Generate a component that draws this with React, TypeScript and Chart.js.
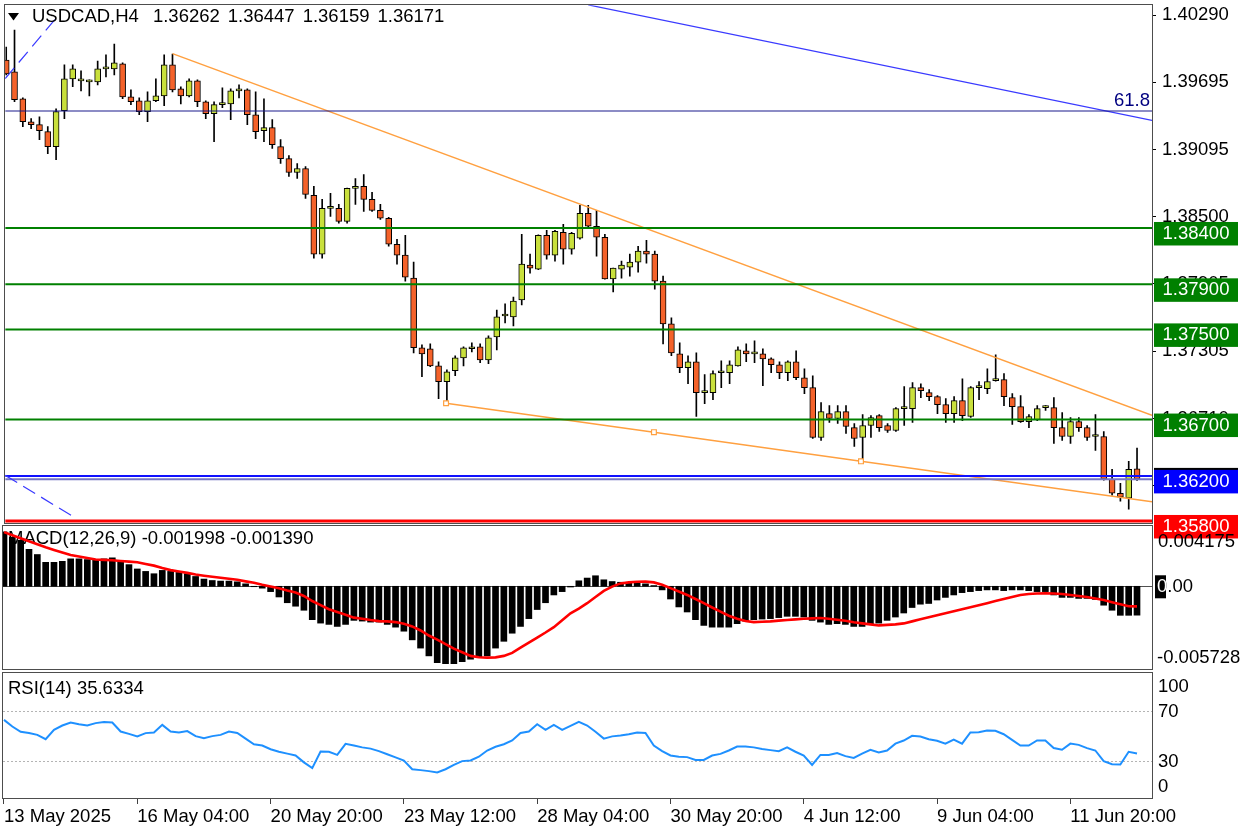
import React, { useEffect, useRef } from 'react';
import { Chart, registerables } from 'chart.js';

Chart.register(...registerables);

// ---------- texts ----------
const symbolLabel = 'USDCAD,H4';
const headerValues = ['1.36262', '1.36447', '1.36159', '1.36171'];
const macdTitle = 'MACD(12,26,9) -0.001998 -0.001390';
const rsiTitle = 'RSI(14) 35.6334';

// ---------- candles (H4, index 0 = 13 May 12:00) ----------
const opens = [
  1.39891, 1.39785, 1.39547, 1.39343, 1.39317, 1.39255, 1.39122, 1.39440, 1.39723, 1.39706,
  1.39697, 1.39697, 1.39812, 1.39812, 1.39856, 1.39564, 1.39529, 1.39432, 1.39529, 1.39573,
  1.39847, 1.39635, 1.39573, 1.39706, 1.39520, 1.39414, 1.39494, 1.39502, 1.39617, 1.39626,
  1.39405, 1.39264, 1.39290, 1.39122, 1.39016, 1.38892, 1.38928, 1.38689, 1.38168, 1.38574,
  1.38574, 1.38459, 1.38751, 1.38769, 1.38654, 1.38556, 1.38486, 1.38256, 1.38159, 1.37955,
  1.37337, 1.37328, 1.37177, 1.37036, 1.37133, 1.37248, 1.37328, 1.37345, 1.37230, 1.37434,
  1.37619, 1.37611, 1.37761, 1.38070, 1.38035, 1.38335, 1.38159, 1.38362, 1.38212, 1.38309,
  1.38530, 1.38415, 1.38318, 1.37947, 1.38035, 1.38053, 1.38097, 1.38194, 1.38168, 1.37929,
  1.37549, 1.37283, 1.37160, 1.37213, 1.36939, 1.36939, 1.37115, 1.37115, 1.37177, 1.37310,
  1.37283, 1.37283, 1.37239, 1.37186, 1.37115, 1.37213, 1.37071, 1.36983, 1.36541, 1.36753,
  1.36709, 1.36771, 1.36629, 1.36541, 1.36647, 1.36735, 1.36647, 1.36603, 1.36797, 1.36797,
  1.36983, 1.36939, 1.36903, 1.36833, 1.36753, 1.36868, 1.36727, 1.36983, 1.36974, 1.37045,
  1.37054, 1.36895, 1.36815, 1.36682, 1.36700, 1.36806, 1.36806, 1.36629, 1.36550, 1.36682,
  1.36629, 1.36550, 1.36550, 1.36170, 1.36046, 1.36002, 1.36262,
];
const highs = [
  1.40006, 1.40157, 1.39555, 1.39370, 1.39387, 1.39299, 1.39458, 1.39847, 1.39847, 1.39794,
  1.39714, 1.39882, 1.39936, 1.40033, 1.39865, 1.39626, 1.39555, 1.39608, 1.39723, 1.39936,
  1.39944, 1.39653, 1.39723, 1.39714, 1.39529, 1.39520, 1.39644, 1.39635, 1.39670, 1.39635,
  1.39608, 1.39547, 1.39361, 1.39184, 1.39043, 1.38972, 1.38945, 1.38769, 1.38654, 1.38707,
  1.38610, 1.38755, 1.38839, 1.38875, 1.38716, 1.38610, 1.38495, 1.38300, 1.38335, 1.38097,
  1.37363, 1.37372, 1.37213, 1.37142, 1.37266, 1.37345, 1.37381, 1.37372, 1.37443, 1.37672,
  1.37726, 1.37787, 1.38344, 1.38168, 1.38340, 1.38380, 1.38380, 1.38433, 1.38362, 1.38601,
  1.38601, 1.38556, 1.38344, 1.38044, 1.38106, 1.38168, 1.38238, 1.38291, 1.38194, 1.37973,
  1.37602, 1.37381, 1.37266, 1.37292, 1.37098, 1.37133, 1.37222, 1.37222, 1.37345, 1.37372,
  1.37398, 1.37328, 1.37248, 1.37213, 1.37222, 1.37310, 1.37151, 1.37089, 1.36850, 1.36824,
  1.36824, 1.36824, 1.36665, 1.36744, 1.36735, 1.36744, 1.36665, 1.36806, 1.36992, 1.37027,
  1.37018, 1.36965, 1.36912, 1.36886, 1.36903, 1.37062, 1.36992, 1.37036, 1.37151, 1.37275,
  1.37107, 1.36930, 1.36912, 1.36744, 1.36824, 1.36824, 1.36895, 1.36762, 1.36718, 1.36718,
  1.36647, 1.36744, 1.36594, 1.36258, 1.36134, 1.36329, 1.36447,
];
const lows = [
  1.39759, 1.39520, 1.39299, 1.39281, 1.39184, 1.39060, 1.39007, 1.39370, 1.39653, 1.39617,
  1.39573, 1.39670, 1.39741, 1.39759, 1.39547, 1.39494, 1.39405, 1.39343, 1.39520, 1.39485,
  1.39608, 1.39502, 1.39564, 1.39476, 1.39370, 1.39166, 1.39467, 1.39361, 1.39555, 1.39317,
  1.39193, 1.39166, 1.39105, 1.38972, 1.38857, 1.38839, 1.38663, 1.38132, 1.38132, 1.38503,
  1.38442, 1.38442, 1.38610, 1.38548, 1.38548, 1.38477, 1.38238, 1.38079, 1.37929, 1.37292,
  1.37080, 1.37169, 1.36886, 1.36850, 1.37089, 1.37177, 1.37301, 1.37204, 1.37195, 1.37319,
  1.37558, 1.37531, 1.37717, 1.37999, 1.38030, 1.38123, 1.38106, 1.38079, 1.38168, 1.38300,
  1.38406, 1.38150, 1.37945, 1.37832, 1.37955, 1.37973, 1.38008, 1.38088, 1.37858, 1.37372,
  1.37266, 1.37115, 1.37018, 1.36727, 1.36841, 1.36877, 1.36983, 1.37018, 1.37174, 1.37213,
  1.37204, 1.37001, 1.37115, 1.37062, 1.37045, 1.37054, 1.36930, 1.36532, 1.36514, 1.36674,
  1.36665, 1.36576, 1.36461, 1.36329, 1.36541, 1.36594, 1.36585, 1.36594, 1.36647, 1.36674,
  1.36895, 1.36868, 1.36753, 1.36674, 1.36674, 1.36691, 1.36718, 1.36877, 1.36930, 1.37040,
  1.36824, 1.36656, 1.36674, 1.36629, 1.36691, 1.36780, 1.36488, 1.36514, 1.36488, 1.36594,
  1.36514, 1.36426, 1.36161, 1.36028, 1.35975, 1.35904, 1.36159,
];
const closes = [
  1.39768, 1.39538, 1.39343, 1.39317, 1.39264, 1.39122, 1.39432, 1.39723, 1.39812, 1.39708,
  1.39699, 1.39812, 1.39814, 1.39865, 1.39564, 1.39520, 1.39432, 1.39529, 1.39573, 1.39847,
  1.39626, 1.39573, 1.39706, 1.39520, 1.39414, 1.39494, 1.39496, 1.39617, 1.39635, 1.39405,
  1.39255, 1.39290, 1.39140, 1.39016, 1.38892, 1.38928, 1.38698, 1.38168, 1.38574, 1.38576,
  1.38459, 1.38751, 1.38769, 1.38654, 1.38556, 1.38486, 1.38256, 1.38159, 1.37964, 1.37337,
  1.37283, 1.37177, 1.37036, 1.37124, 1.37248, 1.37337, 1.37345, 1.37230, 1.37425, 1.37611,
  1.37621, 1.37752, 1.38079, 1.38044, 1.38335, 1.38159, 1.38371, 1.38212, 1.38353, 1.38530,
  1.38415, 1.38318, 1.37947, 1.38044, 1.38070, 1.38097, 1.38194, 1.38168, 1.37929, 1.37549,
  1.37292, 1.37160, 1.37213, 1.36939, 1.36941, 1.37107, 1.37117, 1.37186, 1.37319, 1.37283,
  1.37285, 1.37239, 1.37186, 1.37115, 1.37213, 1.37071, 1.36983, 1.36541, 1.36771, 1.36709,
  1.36771, 1.36638, 1.36532, 1.36647, 1.36718, 1.36629, 1.36603, 1.36797, 1.36799, 1.36983,
  1.36956, 1.36903, 1.36833, 1.36753, 1.36868, 1.36735, 1.36983, 1.36985, 1.37036, 1.37054,
  1.36903, 1.36815, 1.36682, 1.36727, 1.36797, 1.36808, 1.36629, 1.36550, 1.36682, 1.36629,
  1.36541, 1.36552, 1.36170, 1.36046, 1.36011, 1.36258, 1.36171,
];

// ---------- MACD ----------
const macdHist = [
  0.00377, 0.00340, 0.00319, 0.00256, 0.00220, 0.00166, 0.00166, 0.00173, 0.00190, 0.00190,
  0.00185, 0.00180, 0.00190, 0.00197, 0.00173, 0.00150, 0.00120, 0.00103, 0.00087, 0.00110,
  0.00103, 0.00096, 0.00087, 0.00068, 0.00050, 0.00040, 0.00036, 0.00036, 0.00031, 0.00017,
  -0.00003, -0.00013, -0.00037, -0.00074, -0.00114, -0.00138, -0.00166, -0.00231, -0.00255, -0.00264,
  -0.00278, -0.00264, -0.00236, -0.00241, -0.00248, -0.00248, -0.00264, -0.00283, -0.00311, -0.00371,
  -0.00428, -0.00482, -0.00529, -0.00536, -0.00536, -0.00522, -0.00505, -0.00494, -0.00482, -0.00428,
  -0.00381, -0.00325, -0.00278, -0.00224, -0.00161, -0.00114, -0.00060, -0.00037, -0.00005, 0.00038,
  0.00057, 0.00073, 0.00045, 0.00033, 0.00028, 0.00026, 0.00022, 0.00017, 0.00005, -0.00025,
  -0.00088, -0.00143, -0.00178, -0.00231, -0.00271, -0.00283, -0.00283, -0.00283, -0.00259, -0.00241,
  -0.00231, -0.00227, -0.00224, -0.00217, -0.00208, -0.00208, -0.00213, -0.00236, -0.00248, -0.00264,
  -0.00259, -0.00264, -0.00278, -0.00278, -0.00264, -0.00255, -0.00236, -0.00213, -0.00185, -0.00147,
  -0.00124, -0.00119, -0.00095, -0.00077, -0.00060, -0.00044, -0.00037, -0.00030, -0.00025, -0.00025,
  -0.00030, -0.00025, -0.00025, -0.00030, -0.00037, -0.00037, -0.00060, -0.00077, -0.00077, -0.00084,
  -0.00084, -0.00091, -0.00131, -0.00166, -0.00201, -0.00201, -0.00200,
];
const macdSignal = [
  0.00375, 0.00354, 0.00333, 0.00312, 0.00291, 0.00270, 0.00252, 0.00234, 0.00217, 0.00206,
  0.00196, 0.00185, 0.00183, 0.00180, 0.00175, 0.00171, 0.00166, 0.00154, 0.00143, 0.00126,
  0.00112, 0.00103, 0.00093, 0.00081, 0.00073, 0.00066, 0.00059, 0.00052, 0.00045, 0.00034,
  0.00024, 0.00010, -0.00001, -0.00013, -0.00029, -0.00043, -0.00067, -0.00102, -0.00131, -0.00159,
  -0.00178, -0.00197, -0.00217, -0.00225, -0.00234, -0.00241, -0.00243, -0.00248, -0.00260, -0.00278,
  -0.00306, -0.00341, -0.00369, -0.00401, -0.00432, -0.00457, -0.00482, -0.00491, -0.00494, -0.00492,
  -0.00482, -0.00461, -0.00425, -0.00390, -0.00355, -0.00320, -0.00283, -0.00236, -0.00187, -0.00155,
  -0.00117, -0.00074, -0.00032, -0.00002, 0.00020, 0.00027, 0.00031, 0.00032, 0.00027, 0.00010,
  -0.00013, -0.00036, -0.00060, -0.00088, -0.00117, -0.00147, -0.00176, -0.00204, -0.00225, -0.00241,
  -0.00248, -0.00246, -0.00243, -0.00238, -0.00234, -0.00229, -0.00225, -0.00222, -0.00220, -0.00225,
  -0.00232, -0.00239, -0.00249, -0.00257, -0.00264, -0.00271, -0.00267, -0.00264, -0.00257, -0.00243,
  -0.00229, -0.00215, -0.00201, -0.00187, -0.00173, -0.00159, -0.00145, -0.00131, -0.00117, -0.00102,
  -0.00088, -0.00074, -0.00060, -0.00053, -0.00050, -0.00048, -0.00050, -0.00053, -0.00060, -0.00067,
  -0.00074, -0.00084, -0.00095, -0.00110, -0.00124, -0.00138, -0.00139,
];

// ---------- RSI ----------
const rsiValues = [
  62.5, 57.2, 53, 52, 50.5, 47, 54.5, 58, 60.4, 59,
  58, 59.9, 60.7, 60.4, 53.2, 51.3, 49.2, 51.9, 52.4, 58.5,
  53.2, 52.4, 53.5, 49.5, 47.9, 49.5, 50.5, 53.2, 52, 47.5,
  43, 42, 39, 37, 35.5, 34, 28.5, 23.9, 37.2, 37,
  34.5, 43.3, 42, 40.5, 39.5, 37.5, 35, 32.5, 30, 23,
  22.3, 21.5, 20.5, 23, 26.5, 29.5, 30, 33, 38, 41,
  43, 46, 52, 53.2, 59, 54.5, 58.5, 54.5, 57.7, 61,
  58, 53, 47.5, 49.3, 50, 51, 52.4, 52, 42, 37.5,
  34, 33, 32.7, 30.5, 30.5, 34, 35.3, 38, 41.2, 41.2,
  40.5, 39.2, 38.3, 37.5, 40.5, 37, 34, 26.5, 34.5, 34.5,
  35.9, 33.5, 32, 35.5, 38.5, 36.4, 38, 43.5, 46, 49.7,
  49.2, 47, 45.8, 43.5, 46.8, 43.5, 52.4, 52.6, 54, 53.8,
  51, 46.5, 42, 42, 46, 46, 40, 38.6, 43.5, 42.5,
  39.9, 38, 29.5, 27, 26.8, 37, 35.63,
];

// ---------- axes ----------
const timeTickIndex = [0, 16, 32, 48, 64, 80, 96, 112, 128];
const timeTickLabels = ['13 May 2025', '16 May 04:00', '20 May 20:00', '23 May 12:00', '28 May 04:00', '30 May 20:00', '4 Jun 12:00', '9 Jun 04:00', '11 Jun 20:00'];
const priceTicks = [1.4029, 1.39695, 1.39095, 1.385, 1.37905, 1.37305, 1.3671, 1.36115];
const priceRange = [1.35782, 1.40377];
const barRange = [-0.12, 137.8];
const macdRange = [-0.005728, 0.004175];
const rsiRange = [0, 100];
const rsiLevels = [30, 70];

// ---------- drawn objects ----------
const greenLevels = [1.384, 1.379, 1.375, 1.367];
const blueLevel = 1.362;
const redLevel = 1.358;
const bidPrice = 1.36171;
const fibLevel = 1.39438;
const fibLabel = '61.8';
const upperTrendX = [20, 137.8];
const upperTrendY = [1.39947, 1.36738];
const lowerTrendX = [52.9, 77.9, 102.8, 137.8];
const lowerTrendY = [1.36845, 1.36588, 1.36329, 1.3597];
const blueTrendX = [70, 137.8];
const blueTrendY = [1.4038, 1.39354];
const dashTopX = [-0.12, 6.1];
const dashTopY = [1.39726, 1.40271];
const dashLowX = [-0.12, 8.16];
const dashLowY = [1.36205, 1.35834];

// ---------- style ----------
const FONT_FAMILY = '"Liberation Sans", Arial, sans-serif';
const FS = 18.5;
const FONT = `${FS}px ${FONT_FAMILY}`;
const BULL = '#c9e03c';
const BEAR = '#f4622a';
const GREEN = '#008000';
const ORANGE = '#ffa040';
const AXIS_W = 96;
const W = 1248;
const H = 832;

const pts = (xs: number[], ys: number[]) => xs.map((x, i) => ({ x, y: ys[i] }));
const hline = (v: number) => pts(barRange, [v, v]);
const idx = closes.map((_, i) => i);

function drawFrame(ctx: CanvasRenderingContext2D, a: any) {
  ctx.save();
  ctx.strokeStyle = '#4d4d4d';
  ctx.lineWidth = 1;
  const l = Math.round(a.left), t = Math.round(a.top), r = Math.round(a.right), b = Math.round(a.bottom);
  ctx.strokeRect(l - 0.5, t - 0.5, r - l + 1, b - t + 1);
  ctx.restore();
}

function lineDs(data: any[], color: string, width: number, extra: any = {}) {
  return { type: 'line', data, borderColor: color, borderWidth: width, pointRadius: 0, fill: false, tension: 0, order: 0, ...extra };
}

const yFit = (s: any) => { s.width = AXIS_W; s.paddingTop = 0; s.paddingBottom = 0; };

const mainDecor = {
  id: 'mainDecor',
  afterDatasetsDraw(chart: any) {
    const { ctx, chartArea: a, scales } = chart;
    ctx.save();
    ctx.font = FONT;
    ctx.fillStyle = '#000';
    ctx.textBaseline = 'middle';
    ctx.textAlign = 'left';
    ctx.beginPath();
    ctx.moveTo(8, 13); ctx.lineTo(19, 13); ctx.lineTo(13.5, 20.5); ctx.closePath(); ctx.fill();
    let x = 32;
    ctx.fillText(symbolLabel, x, 17);
    x += ctx.measureText(symbolLabel).width + 14;
    headerValues.forEach((v) => { ctx.fillText(v, x, 17); x += ctx.measureText(v).width + 8; });
    const fy = scales.y.getPixelForValue(fibLevel);
    ctx.fillStyle = '#000080';
    ctx.textAlign = 'right';
    ctx.fillText(fibLabel, a.right - 2, fy - 10);
    ctx.restore();
  },
  afterDraw(chart: any) {
    const { ctx, chartArea: a, scales } = chart;
    drawFrame(ctx, a);
    const boxX = a.right + 2;
    const boxW = 84;
    const box = (v: number, bg: string, dy = 0) => {
      const py = scales.y.getPixelForValue(v);
      ctx.fillStyle = bg;
      ctx.fillRect(boxX, py - 6 + dy, boxW, 23.5);
      return py;
    };
    ctx.save();
    ctx.font = FONT;
    ctx.textBaseline = 'middle';
    ctx.textAlign = 'center';
    const labels: [number, string][] = [
      ...greenLevels.map((v) => [v, GREEN] as [number, string]),
      [blueLevel, '#0000ff'],
      [redLevel, '#ff0000'],
    ];
    labels.forEach(([v, c]) => {
      if (v === blueLevel) box(v, '#000', -2);
      const py = box(v, c);
      ctx.fillStyle = '#fff';
      ctx.fillText(v.toFixed(5), boxX + boxW / 2, py + 6);
    });
    ctx.restore();
  },
};

const macdDecor = {
  id: 'macdDecor',
  beforeDatasetsDraw(chart: any) {
    const { ctx, chartArea: a, scales } = chart;
    const zy = Math.round(scales.y.getPixelForValue(0)) + 0.5;
    ctx.save();
    ctx.strokeStyle = '#505050';
    ctx.lineWidth = 1;
    ctx.beginPath(); ctx.moveTo(a.left, zy); ctx.lineTo(a.right, zy); ctx.stroke();
    ctx.font = FONT;
    ctx.fillStyle = '#000';
    ctx.textBaseline = 'middle';
    ctx.textAlign = 'left';
    ctx.fillText(macdTitle, 8, a.top + 13);
    ctx.restore();
  },
  afterDraw(chart: any) {
    const { ctx, chartArea: a, scales } = chart;
    drawFrame(ctx, a);
    const zy = scales.y.getPixelForValue(0);
    const lx = a.right + 5;
    ctx.save();
    ctx.font = FONT;
    ctx.textBaseline = 'middle';
    ctx.textAlign = 'left';
    ctx.fillStyle = '#000';
    ctx.fillText(macdRange[1].toFixed(6), lx + 1, a.top + 16);
    ctx.fillText(macdRange[0].toFixed(6), lx, a.bottom - 11);
    ctx.fillText((0).toFixed(2), lx, zy + 1);
    ctx.fillRect(lx - 2, zy - 11, 11, 23);
    ctx.fillStyle = '#ffffff';
    ctx.fillText('0', lx, zy + 1);
    ctx.restore();
  },
};

const rsiDecor = {
  id: 'rsiDecor',
  beforeDatasetsDraw(chart: any) {
    const { ctx, chartArea: a, scales } = chart;
    ctx.save();
    ctx.strokeStyle = '#b4b4b4';
    ctx.lineWidth = 1;
    ctx.setLineDash([2, 2]);
    rsiLevels.forEach((lv) => {
      const py = Math.round(scales.y.getPixelForValue(lv)) + 0.5;
      ctx.beginPath(); ctx.moveTo(a.left, py); ctx.lineTo(a.right, py); ctx.stroke();
    });
    ctx.setLineDash([]);
    ctx.font = FONT;
    ctx.fillStyle = '#000';
    ctx.textBaseline = 'middle';
    ctx.textAlign = 'left';
    ctx.fillText(rsiTitle, 8, a.top + 16);
    ctx.restore();
  },
  afterDraw(chart: any) {
    const { ctx, chartArea: a, scales } = chart;
    drawFrame(ctx, a);
    const lx = a.right + 6;
    ctx.save();
    ctx.font = FONT;
    ctx.textBaseline = 'middle';
    ctx.textAlign = 'left';
    ctx.fillStyle = '#000';
    ctx.fillText(String(rsiRange[1]), lx, a.top + 14);
    rsiLevels.forEach((lv) => ctx.fillText(String(lv), lx, scales.y.getPixelForValue(lv) + 1));
    ctx.fillText(String(rsiRange[0]), lx, a.bottom - 11);
    ctx.restore();
  },
};

const baseOptions = {
  responsive: false,
  animation: false as const,
  events: [] as any[],
  plugins: { legend: { display: false }, tooltip: { enabled: false }, title: { display: false } },
};

const hiddenX = { type: 'linear', min: barRange[0], max: barRange[1], offset: false, display: false };

export default function App() {
  const mainRef = useRef<HTMLCanvasElement>(null);
  const macdRef = useRef<HTMLCanvasElement>(null);
  const rsiRef = useRef<HTMLCanvasElement>(null);

  useEffect(() => {
    const charts: Chart[] = [];

    // ---------------- price panel ----------------
    const bodies = {
      type: 'bar',
      data: idx.map((i) => ({ x: i, y: [opens[i], closes[i]] })),
      backgroundColor: idx.map((i) => (closes[i] >= opens[i] ? BULL : BEAR)),
      borderColor: '#000',
      borderWidth: 1,
      borderSkipped: false,
      barThickness: 6,
      minBarLength: 2,
      grouped: false,
      order: 1,
    };
    const wicks = {
      type: 'bar',
      data: idx.map((i) => ({ x: i, y: [lows[i], highs[i]] })),
      backgroundColor: '#000',
      borderWidth: 0,
      barThickness: 1,
      grouped: false,
      order: 2,
    };
    const lines = [
      lineDs(hline(fibLevel), '#1a1a8c', 1.2),
      lineDs(pts(blueTrendX, blueTrendY), '#3a3aff', 1.2),
      lineDs(pts(dashTopX, dashTopY), '#3a3aff', 1.2, { borderDash: [14, 7] }),
      lineDs(pts(dashLowX, dashLowY), '#3a3aff', 1.2, { borderDash: [14, 7] }),
      ...greenLevels.map((v) => lineDs(hline(v), GREEN, 2)),
      lineDs(hline(bidPrice), '#7676c4', 2),
      lineDs(hline(blueLevel), '#1010ff', 2),
      lineDs(hline(redLevel), '#ff0000', 3),
      lineDs(pts(upperTrendX, upperTrendY), ORANGE, 1.5),
      lineDs(pts(lowerTrendX, lowerTrendY), ORANGE, 1.5, {
        pointRadius: [3.4, 3.4, 3.4, 0],
        pointStyle: 'rect',
        pointBackgroundColor: '#ffffff',
        pointBorderColor: ORANGE,
        pointBorderWidth: 1.2,
      }),
    ];

    charts.push(new Chart(mainRef.current as HTMLCanvasElement, {
      type: 'bar',
      data: { datasets: [...lines, bodies, wicks] as any },
      options: {
        ...baseOptions,
        layout: { padding: { left: 3, right: 0, top: 3, bottom: H - 523 } },
        scales: {
          x: hiddenX as any,
          y: {
            type: 'linear',
            position: 'right',
            min: priceRange[0],
            max: priceRange[1],
            afterBuildTicks: (s: any) => { s.ticks = priceTicks.map((v) => ({ value: v })); },
            afterFit: yFit,
            ticks: {
              autoSkip: false,
              padding: 6,
              color: '#000',
              font: { family: FONT_FAMILY, size: FS },
              callback: (v: any) => Number(v).toFixed(5),
            },
            grid: { drawOnChartArea: false, drawTicks: true, tickLength: 4, color: '#000' },
            border: { display: true, color: '#4d4d4d' },
          } as any,
        },
      } as any,
      plugins: [mainDecor],
    }));

    // ---------------- MACD panel ----------------
    charts.push(new Chart(macdRef.current as HTMLCanvasElement, {
      type: 'bar',
      data: {
        datasets: [
          lineDs(pts(idx, macdSignal), '#ff0000', 2.6),
          {
            type: 'bar',
            data: pts(idx, macdHist),
            backgroundColor: '#000',
            borderWidth: 0,
            barThickness: 6,
            grouped: false,
            order: 1,
          },
        ] as any,
      },
      options: {
        ...baseOptions,
        layout: { padding: { left: 3, right: 0, top: 526, bottom: H - 669 } },
        scales: {
          x: hiddenX as any,
          y: {
            type: 'linear', position: 'right', min: macdRange[0], max: macdRange[1],
            afterFit: yFit,
            ticks: { display: false },
            grid: { display: false },
            border: { display: true, color: '#4d4d4d' },
          } as any,
        },
      } as any,
      plugins: [macdDecor],
    }));

    // ---------------- RSI panel ----------------
    charts.push(new Chart(rsiRef.current as HTMLCanvasElement, {
      type: 'line',
      data: {
        datasets: [lineDs(pts(idx, rsiValues), '#1e90ff', 2)] as any,
      },
      options: {
        ...baseOptions,
        layout: { padding: { left: 3, right: 0, top: 673, bottom: 0 } },
        scales: {
          x: {
            type: 'linear', min: barRange[0], max: barRange[1], offset: false,
            afterBuildTicks: (s: any) => { s.ticks = timeTickIndex.map((v) => ({ value: v })); },
            afterFit: (s: any) => { s.height = H - 798; s.paddingLeft = 0; s.paddingRight = 0; },
            ticks: {
              autoSkip: false, maxRotation: 0, minRotation: 0, align: 'start', padding: 2,
              color: '#000',
              font: { family: FONT_FAMILY, size: FS },
              callback: (v: any) => {
                const k = timeTickIndex.indexOf(Number(v));
                return k >= 0 ? timeTickLabels[k] : '';
              },
            },
            grid: { drawOnChartArea: false, drawTicks: true, tickLength: 6, color: '#404040' },
            border: { display: true, color: '#4d4d4d' },
          } as any,
          y: {
            type: 'linear', position: 'right', min: rsiRange[0], max: rsiRange[1],
            afterFit: yFit,
            ticks: { display: false },
            grid: { display: false },
            border: { display: true, color: '#4d4d4d' },
          } as any,
        },
      } as any,
      plugins: [rsiDecor],
    }));

    return () => charts.forEach((c) => c.destroy());
  }, []);

  const cStyle: React.CSSProperties = { position: 'absolute', left: 0, top: 0, width: W, height: H };
  return (
    <div style={{ position: 'fixed', left: 0, top: 0, width: W, height: H, background: '#ffffff', overflow: 'hidden' }}>
      <canvas ref={mainRef} width={W} height={H} style={cStyle} />
      <canvas ref={macdRef} width={W} height={H} style={cStyle} />
      <canvas ref={rsiRef} width={W} height={H} style={cStyle} />
    </div>
  );
}
